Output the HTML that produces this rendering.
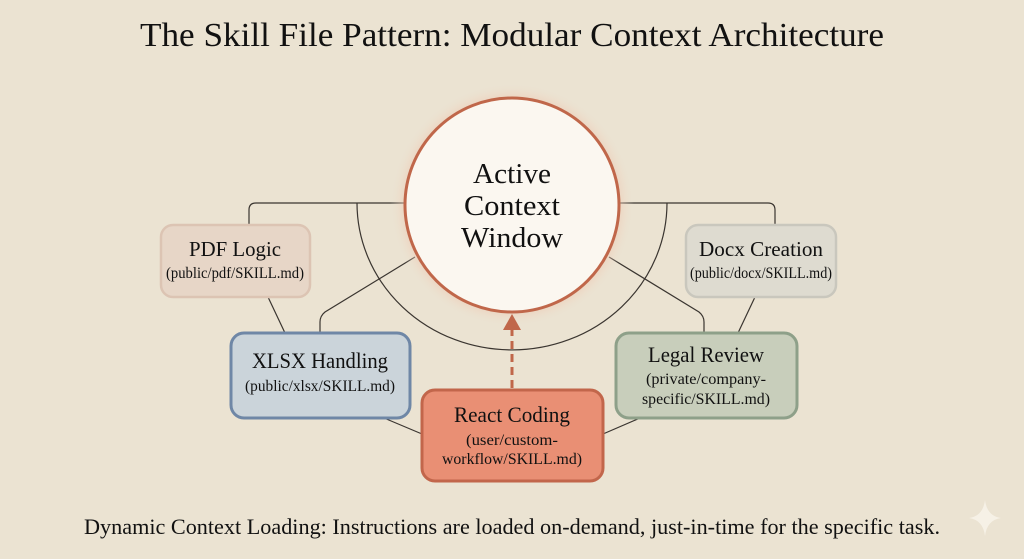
<!DOCTYPE html>
<html><head><meta charset="utf-8"><style>
html,body{margin:0;padding:0;background:#ebe3d2;}
svg{display:block;font-family:"Liberation Serif",serif;}
</style></head><body>
<svg width="1024" height="559" viewBox="0 0 1024 559" xmlns="http://www.w3.org/2000/svg">
<defs>
<radialGradient id="glow" cx="50%" cy="50%" r="50%">
<stop offset="80%" stop-color="#f0b9a0" stop-opacity="0.9"/>
<stop offset="100%" stop-color="#ebe3d2" stop-opacity="0"/>
</radialGradient>
</defs>
<rect width="1024" height="559" fill="#ebe3d2"/>
<text x="512" y="46" text-anchor="middle" font-size="34" fill="#111" textLength="744" lengthAdjust="spacingAndGlyphs">The Skill File Pattern: Modular Context Architecture</text>

<g fill="none" stroke="#3a3530" stroke-width="1.2">
<path d="M357 203 A155 147 0 0 0 667 203"/>
<path d="M249 224 V210 Q249 203 256 203 H406"/>
<path d="M775 224 V210 Q775 203 768 203 H618"/>
<path d="M415 257 L325 312 Q320 316 320 322 V333"/>
<path d="M609 257 L699 312 Q704 316 704 322 V333"/>
<path d="M268 297 L285 333"/>
<path d="M755 297 L738 333"/>
<path d="M384 418 L422 434"/>
<path d="M640 418 L603 434"/>
</g>

<circle cx="512" cy="205" r="122" fill="url(#glow)"/>
<circle cx="512" cy="205" r="107" fill="#fbf7f0" stroke="#c0674a" stroke-width="3"/>
<g font-size="29" fill="#111" text-anchor="middle">
<text x="512" y="183" textLength="78" lengthAdjust="spacingAndGlyphs">Active</text>
<text x="512" y="215" textLength="96" lengthAdjust="spacingAndGlyphs">Context</text>
<text x="512" y="247" textLength="102" lengthAdjust="spacingAndGlyphs">Window</text>
</g>

<line x1="512" y1="388" x2="512" y2="330" stroke="#c0674a" stroke-width="3" stroke-dasharray="8,5"/>
<polygon points="512,314 503,330 521,330" fill="#c0674a"/>

<rect x="161" y="225" width="149" height="72" rx="12" fill="#e7d6c7" stroke="#dcc4b3" stroke-width="2.5"/>
<text x="235" y="256" text-anchor="middle" font-size="21" fill="#111" textLength="92" lengthAdjust="spacingAndGlyphs">PDF Logic</text>
<text x="235" y="278" text-anchor="middle" font-size="16" fill="#111" textLength="138" lengthAdjust="spacingAndGlyphs">(public/pdf/SKILL.md)</text>

<rect x="686" y="225" width="150" height="72" rx="12" fill="#dedbd0" stroke="#c9c7bd" stroke-width="2.5"/>
<text x="761" y="256" text-anchor="middle" font-size="21" fill="#111" textLength="124" lengthAdjust="spacingAndGlyphs">Docx Creation</text>
<text x="761" y="278" text-anchor="middle" font-size="16" fill="#111" textLength="142" lengthAdjust="spacingAndGlyphs">(public/docx/SKILL.md)</text>

<rect x="231" y="333" width="179" height="85" rx="13" fill="#cbd4da" stroke="#6f87a6" stroke-width="3"/>
<text x="320" y="368" text-anchor="middle" font-size="22" fill="#111" textLength="136" lengthAdjust="spacingAndGlyphs">XLSX Handling</text>
<text x="320" y="391" text-anchor="middle" font-size="16" fill="#111" textLength="150" lengthAdjust="spacingAndGlyphs">(public/xlsx/SKILL.md)</text>

<rect x="616" y="333" width="181" height="85" rx="13" fill="#c8cebb" stroke="#8ea089" stroke-width="3"/>
<text x="706" y="362" text-anchor="middle" font-size="22" fill="#111" textLength="116" lengthAdjust="spacingAndGlyphs">Legal Review</text>
<text x="706" y="384" text-anchor="middle" font-size="16" fill="#111" textLength="120" lengthAdjust="spacingAndGlyphs">(private/company-</text>
<text x="706" y="404" text-anchor="middle" font-size="16" fill="#111" textLength="128" lengthAdjust="spacingAndGlyphs">specific/SKILL.md)</text>

<rect x="422" y="390" width="181" height="91" rx="13" fill="#e98f74" stroke="#c2664b" stroke-width="3"/>
<text x="512" y="422" text-anchor="middle" font-size="22" fill="#111" textLength="116" lengthAdjust="spacingAndGlyphs">React Coding</text>
<text x="512" y="445" text-anchor="middle" font-size="16" fill="#111" textLength="92" lengthAdjust="spacingAndGlyphs">(user/custom-</text>
<text x="512" y="464" text-anchor="middle" font-size="16" fill="#111" textLength="140" lengthAdjust="spacingAndGlyphs">workflow/SKILL.md)</text>

<text x="512" y="534" text-anchor="middle" font-size="22" fill="#111" textLength="856" lengthAdjust="spacingAndGlyphs">Dynamic Context Loading: Instructions are loaded on-demand, just-in-time for the specific task.</text>

<path d="M985 500 Q987 516 1001 518 Q987 520 985 536 Q983 520 969 518 Q983 516 985 500Z" fill="#f6f1e6"/>
</svg>
</body></html>
